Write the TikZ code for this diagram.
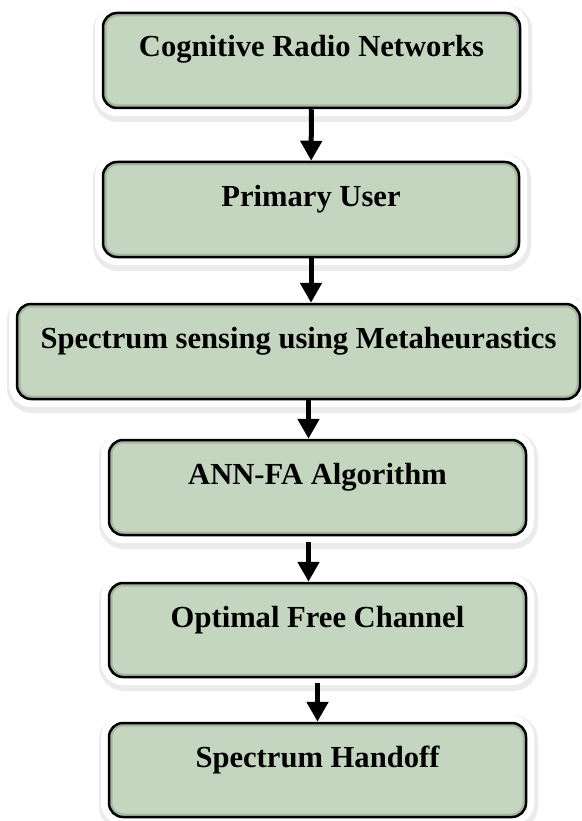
\documentclass[tikz,border=0pt]{standalone}
\usepackage{fontspec}
\setmainfont{Liberation Serif}
\usetikzlibrary{arrows.meta}
\definecolor{vertpale}{RGB}{196,214,192}

\begin{document}
\begin{tikzpicture}[x=1pt,y=-1pt]
\tikzset{boite/.style={draw, line width=2.5pt, rounded corners=14pt, fill=vertpale,
  inner xsep=0pt, inner ysep=0pt, text height=44pt, text depth=51pt, minimum width=417pt,
  font=\fontsize{30.6}{36}\selectfont\bfseries,
  preaction={draw=black!8, line width=22pt, transform canvas={xshift=1pt, yshift=-3pt}},
  preaction={draw=white, line width=16pt},
  path picture={\draw[black, opacity=0.15, line width=7pt] (path picture bounding box.south west) rectangle (path picture bounding box.north east);}},
  fleche/.style={line width=5pt, -{Triangle[width=21pt, length=20pt]}}}
\useasboundingbox (0,0) rectangle (581,821);
\clip (0,0) rectangle (581,821);
\node[boite] (B1) at (311.5,60.5) {Cognitive Radio Networks};
\node[boite, minimum width=416pt] (B2) at (311,209.5) {Primary User};
\node[boite, minimum width=563pt] (B3) at (298.5,351.5) {Spectrum sensing using Metaheurastics};
\node[boite] (B4) at (317.5,487.5) {ANN-FA Algorithm};
\node[boite, text depth=50pt] (B5) at (317.5,630) {Optimal Free Channel};
\node[boite, text depth=50pt] (B6) at (317.5,770) {Spectrum Handoff};
\draw[fleche] (B1) -- (B2);
\draw[fleche] (B2.south) -- (B2.south |- B3.north);
\draw[fleche] ([xshift=-9pt]B4.north |- B3.south) -- ([xshift=-9pt]B4.north);
\draw[fleche, shorten <=6pt] ([xshift=-9pt]B4.south) -- ([xshift=-9pt]B5.north);
\draw[fleche, shorten <=5pt] (B5) -- (B6);
\end{tikzpicture}
\end{document}
